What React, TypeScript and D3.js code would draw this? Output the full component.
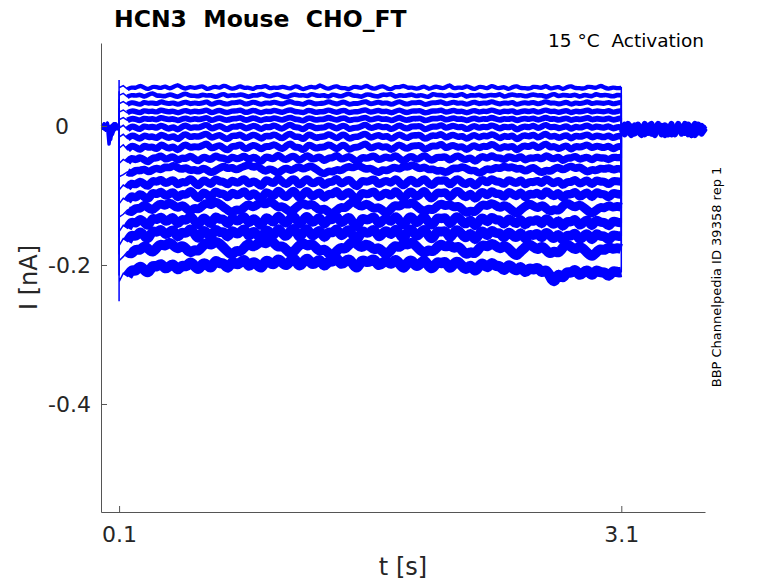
import { useEffect, useRef } from "react";
import * as d3 from "d3";

// current sweeps during the 0.1 - 3.1 s step, in pA (121 samples each)
const sweep01 = [55, 58, 53, 56, 54, 59, 55, 52, 57, 56, 54, 58, 53, 56, 60, 55, 53, 57, 54, 56, 58, 52, 55, 57, 54, 59, 56, 53, 55, 58, 54, 56, 52, 57, 55, 59, 53, 56, 54, 57, 55, 53, 58, 56, 52, 55, 57, 54, 60, 55, 53, 56, 58, 54, 55, 52, 57, 56, 54, 59, 55, 53, 56, 58, 54, 52, 57, 55, 59, 54, 56, 53, 55, 58, 52, 56, 57, 54, 55, 60, 53, 56, 54, 58, 55, 52, 57, 56, 53, 59, 55, 54, 57, 52, 56, 58, 54, 55, 53, 57, 56, 54, 59, 53, 55, 57, 52, 56, 58, 54, 55, 53, 57, 56, 54, 59, 55, 53, 56, 54, 55];
const sweep02 = [44, 47, 42, 45, 43, 46, 41, 45, 48, 43, 44, 42, 46, 44, 41, 45, 47, 43, 44, 42, 46, 43, 45, 41, 44, 47, 42, 45, 43, 46, 44, 41, 45, 43, 47, 44, 42, 45, 46, 43, 41, 44, 46, 43, 45, 42, 47, 44, 43, 45, 41, 46, 44, 42, 45, 47, 43, 44, 41, 46, 45, 43, 42, 46, 44, 47, 41, 45, 43, 44, 46, 42, 45, 43, 41, 47, 44, 45, 42, 46, 43, 44, 47, 41, 45, 43, 46, 42, 44, 45, 43, 47, 41, 44, 46, 43, 45, 42, 44, 46, 43, 45, 41, 44, 47, 42, 45, 44, 43, 46, 41, 45, 44, 42, 47, 43, 45, 44, 42, 45, 44];
const sweep03 = [32, 35, 31, 34, 33, 30, 35, 32, 34, 31, 36, 33, 32, 34, 30, 33, 35, 31, 34, 32, 33, 36, 30, 33, 35, 32, 31, 34, 33, 36, 31, 32, 35, 33, 30, 34, 32, 35, 33, 31, 34, 36, 32, 33, 30, 35, 34, 31, 33, 32, 36, 33, 31, 34, 35, 30, 33, 32, 34, 36, 31, 33, 35, 32, 34, 30, 33, 36, 32, 31, 34, 33, 35, 30, 32, 34, 33, 36, 31, 33, 35, 32, 34, 30, 33, 35, 31, 34, 32, 36, 33, 31, 34, 32, 35, 30, 33, 34, 32, 35, 31, 33, 36, 32, 34, 31, 33, 35, 30, 34, 32, 33, 36, 31, 34, 33, 32, 35, 31, 33, 34];
const sweep04 = [20, 23, 19, 22, 21, 18, 23, 20, 22, 19, 24, 21, 20, 22, 18, 21, 23, 19, 22, 20, 21, 24, 18, 21, 23, 20, 19, 22, 21, 24, 19, 20, 23, 21, 18, 22, 20, 23, 21, 19, 22, 24, 20, 21, 18, 23, 22, 19, 21, 20, 24, 21, 19, 22, 23, 18, 21, 20, 22, 24, 19, 21, 23, 20, 22, 18, 21, 24, 20, 19, 22, 21, 23, 18, 20, 22, 21, 24, 19, 21, 23, 20, 22, 18, 21, 23, 19, 22, 20, 24, 21, 19, 22, 20, 23, 18, 21, 22, 20, 23, 19, 21, 24, 20, 22, 19, 21, 23, 18, 22, 20, 21, 24, 19, 22, 21, 20, 23, 19, 21, 22];
const sweep05 = [9, 12, 8, 11, 10, 7, 12, 9, 11, 8, 13, 10, 9, 11, 7, 10, 12, 8, 11, 9, 10, 13, 7, 10, 12, 9, 8, 11, 10, 13, 8, 9, 12, 10, 7, 11, 9, 12, 10, 8, 11, 13, 9, 10, 6, 12, 11, 8, 10, 9, 13, 10, 8, 11, 12, 7, 10, 9, 11, 13, 8, 10, 12, 9, 11, 7, 10, 13, 9, 8, 11, 10, 12, 7, 9, 11, 10, 13, 8, 10, 12, 9, 11, 7, 10, 12, 8, 11, 9, 13, 10, 8, 11, 9, 12, 7, 10, 11, 9, 12, 8, 10, 13, 9, 11, 8, 10, 12, 7, 11, 9, 10, 13, 8, 11, 10, 9, 12, 8, 10, 11];
const sweep06 = [-3, 1, -5, 0, -2, -6, 1, -3, 0, -4, 2, -2, -5, 0, -7, -1, 2, -4, -1, -3, 0, 3, -5, -2, 1, -3, -6, 0, -2, 2, -4, -3, 1, -1, -6, 0, -3, 2, -2, -5, 0, 3, -3, -1, -7, 1, 0, -4, -2, -3, 2, -1, -5, 0, 1, -6, -2, -3, 0, 3, -4, -2, 1, -3, 0, -6, -2, 2, -3, -4, 0, -1, 1, -6, -3, 0, -2, 3, -4, -1, 1, -3, 0, -6, -2, 1, -4, 0, -3, 2, -1, -5, 0, -3, 1, -7, -2, 0, -3, 2, -4, -1, 3, -3, 0, -4, -2, 1, -6, 0, -3, -1, 2, -4, 0, -2, -3, 1, -5, -1, -2];
const sweep07 = [-16, -12, -18, -13, -15, -20, -12, -17, -14, -19, -11, -15, -18, -13, -21, -14, -11, -17, -14, -16, -13, -10, -18, -15, -12, -17, -20, -13, -15, -11, -18, -16, -12, -14, -20, -13, -16, -11, -15, -19, -13, -10, -17, -14, -21, -12, -13, -18, -15, -16, -11, -14, -19, -13, -12, -20, -15, -16, -13, -10, -18, -15, -12, -17, -13, -20, -15, -11, -16, -18, -13, -14, -12, -20, -16, -13, -15, -10, -18, -14, -12, -17, -13, -20, -15, -12, -18, -13, -16, -11, -14, -19, -13, -17, -12, -21, -15, -13, -16, -11, -18, -14, -10, -17, -13, -18, -15, -12, -20, -13, -16, -14, -11, -18, -13, -15, -17, -12, -19, -14, -15];
const sweep08 = [-32, -27, -34, -28, -30, -36, -27, -32, -29, -35, -25, -30, -33, -28, -37, -29, -26, -32, -29, -31, -28, -24, -33, -30, -27, -32, -36, -28, -30, -25, -34, -31, -27, -29, -35, -28, -31, -25, -30, -34, -28, -24, -32, -29, -37, -27, -28, -33, -30, -31, -26, -29, -35, -28, -27, -36, -30, -31, -28, -24, -33, -30, -27, -32, -28, -36, -30, -26, -31, -33, -28, -29, -27, -35, -31, -28, -30, -24, -33, -29, -27, -32, -28, -36, -30, -27, -33, -28, -31, -25, -29, -34, -28, -32, -27, -37, -30, -28, -31, -25, -33, -29, -24, -32, -28, -34, -30, -27, -36, -28, -31, -29, -26, -33, -28, -30, -32, -27, -35, -29, -30];
const sweep09 = [-54, -48, -52, -45, -50, -44, -49, -53, -45, -47, -41, -49, -46, -43, -51, -45, -48, -42, -47, -52, -44, -46, -50, -41, -47, -45, -51, -43, -48, -46, -42, -50, -44, -47, -53, -43, -46, -48, -40, -47, -49, -44, -43, -51, -46, -41, -48, -47, -43, -52, -45, -47, -40, -49, -46, -43, -48, -53, -44, -47, -45, -42, -50, -46, -44, -48, -41, -47, -52, -45, -43, -49, -46, -41, -48, -50, -44, -46, -43, -51, -45, -42, -47, -49, -44, -53, -46, -43, -48, -41, -47, -45, -50, -43, -46, -48, -42, -51, -45, -47, -44, -49, -41, -46, -48, -43, -52, -45, -47, -42, -49, -46, -44, -51, -43, -47, -45, -50, -44, -46, -45];
const sweep10 = [-73, -70, -66, -69, -63, -65, -61, -67, -63, -60, -64, -58, -61, -56, -60, -63, -59, -65, -62, -66, -60, -63, -68, -64, -61, -57, -62, -59, -64, -60, -58, -55, -60, -57, -62, -66, -61, -64, -69, -63, -60, -65, -61, -58, -63, -59, -57, -62, -66, -70, -64, -67, -62, -65, -60, -58, -61, -56, -59, -63, -60, -64, -68, -62, -65, -61, -59, -63, -57, -60, -55, -59, -62, -58, -64, -61, -66, -63, -68, -64, -60, -62, -58, -61, -65, -63, -69, -65, -61, -64, -59, -62, -57, -61, -58, -63, -60, -66, -62, -59, -64, -68, -63, -66, -61, -59, -64, -60, -57, -62, -58, -63, -67, -62, -65, -60, -63, -59, -64, -61, -62];
const sweep11 = [-92, -85, -89, -81, -86, -78, -84, -88, -77, -82, -75, -84, -80, -76, -87, -79, -83, -74, -81, -88, -77, -80, -86, -74, -81, -79, -87, -76, -83, -80, -74, -86, -78, -82, -89, -76, -80, -84, -73, -81, -85, -78, -75, -87, -80, -74, -84, -81, -76, -88, -79, -82, -73, -85, -80, -76, -84, -89, -77, -81, -79, -75, -86, -80, -78, -84, -74, -81, -88, -79, -76, -85, -80, -74, -84, -86, -77, -80, -76, -87, -79, -75, -82, -85, -77, -89, -80, -76, -84, -74, -81, -79, -86, -76, -80, -84, -75, -87, -79, -82, -77, -85, -74, -80, -84, -76, -88, -79, -82, -75, -85, -80, -77, -87, -76, -81, -79, -86, -78, -80, -80];
const sweep12 = [-112, -104, -108, -99, -105, -96, -102, -107, -94, -100, -92, -102, -98, -93, -106, -96, -101, -91, -99, -107, -94, -98, -105, -91, -99, -96, -106, -93, -101, -98, -91, -105, -95, -100, -108, -93, -98, -103, -90, -99, -104, -95, -92, -106, -98, -91, -103, -99, -93, -107, -96, -100, -90, -104, -98, -93, -103, -108, -94, -99, -97, -92, -105, -98, -95, -103, -91, -99, -107, -96, -93, -104, -98, -91, -103, -105, -94, -98, -93, -106, -96, -92, -100, -104, -94, -108, -98, -93, -103, -91, -99, -96, -105, -93, -98, -103, -92, -106, -96, -100, -94, -104, -91, -98, -103, -93, -107, -96, -100, -92, -104, -98, -94, -106, -93, -99, -97, -105, -95, -98, -99];
const sweep13 = [-131, -127, -121, -125, -117, -120, -112, -118, -122, -115, -111, -116, -109, -114, -119, -113, -118, -124, -117, -121, -114, -110, -115, -108, -112, -117, -121, -126, -119, -123, -116, -112, -118, -113, -109, -114, -107, -112, -118, -115, -120, -125, -119, -114, -110, -116, -111, -117, -122, -118, -124, -128, -121, -116, -119, -112, -108, -113, -117, -111, -115, -120, -116, -122, -126, -119, -113, -117, -110, -114, -109, -115, -120, -124, -118, -122, -115, -111, -116, -112, -118, -114, -120, -126, -121, -125, -117, -112, -116, -110, -114, -119, -113, -117, -122, -127, -120, -116, -111, -115, -119, -113, -118, -124, -119, -123, -115, -110, -114, -118, -112, -117, -122, -127, -121, -116, -119, -113, -118, -115, -117];
const sweep14 = [-152, -143, -147, -136, -142, -132, -139, -146, -130, -137, -128, -139, -135, -129, -145, -132, -138, -127, -136, -146, -130, -135, -144, -127, -136, -132, -145, -129, -138, -135, -127, -144, -131, -137, -147, -129, -135, -141, -126, -136, -142, -131, -128, -145, -135, -127, -141, -136, -129, -146, -132, -137, -126, -142, -135, -129, -141, -148, -130, -136, -134, -128, -144, -135, -131, -141, -127, -136, -146, -132, -129, -142, -135, -127, -141, -144, -130, -135, -129, -145, -133, -129, -138, -143, -131, -148, -136, -130, -142, -128, -137, -133, -145, -131, -137, -143, -130, -147, -134, -139, -132, -145, -130, -138, -144, -132, -149, -135, -140, -131, -146, -138, -133, -148, -132, -140, -137, -147, -135, -139, -139];
const sweep15 = [-172, -162, -166, -155, -161, -150, -158, -165, -148, -155, -146, -158, -153, -147, -164, -150, -157, -145, -155, -165, -148, -153, -163, -145, -155, -150, -164, -147, -157, -153, -145, -163, -149, -156, -166, -147, -153, -160, -144, -155, -161, -149, -146, -164, -153, -145, -160, -155, -147, -165, -150, -156, -144, -161, -153, -147, -160, -167, -148, -155, -153, -146, -163, -154, -149, -160, -145, -155, -165, -150, -147, -161, -154, -146, -160, -164, -149, -154, -148, -165, -152, -148, -157, -163, -150, -168, -155, -149, -162, -147, -156, -152, -165, -150, -157, -163, -149, -167, -154, -159, -152, -165, -150, -158, -164, -152, -169, -155, -160, -151, -166, -158, -153, -168, -152, -160, -157, -167, -155, -159, -158];
const sweep16 = [-194, -188, -181, -185, -176, -180, -171, -177, -183, -175, -169, -174, -166, -172, -178, -171, -176, -184, -177, -181, -172, -167, -173, -165, -169, -175, -181, -187, -178, -182, -174, -168, -175, -170, -165, -171, -163, -168, -175, -172, -178, -185, -179, -172, -167, -174, -168, -175, -181, -176, -183, -188, -180, -174, -178, -170, -165, -171, -176, -169, -173, -179, -174, -181, -186, -178, -171, -176, -168, -172, -166, -173, -179, -184, -177, -182, -174, -169, -175, -170, -177, -172, -179, -186, -180, -185, -176, -170, -175, -168, -172, -178, -171, -176, -182, -188, -180, -175, -169, -174, -179, -172, -178, -185, -179, -184, -175, -169, -174, -179, -172, -177, -183, -189, -182, -176, -180, -173, -178, -175, -177];
const sweep17 = [-224, -212, -216, -206, -210, -200, -207, -213, -199, -204, -196, -207, -202, -197, -210, -199, -204, -194, -201, -209, -196, -199, -207, -191, -199, -196, -208, -193, -200, -197, -190, -205, -194, -199, -207, -192, -196, -201, -189, -197, -202, -193, -189, -204, -196, -188, -200, -197, -190, -205, -193, -197, -187, -201, -195, -190, -200, -206, -191, -196, -195, -190, -203, -196, -193, -201, -190, -198, -207, -195, -192, -204, -198, -191, -203, -206, -194, -199, -193, -208, -197, -194, -202, -208, -197, -212, -201, -196, -207, -194, -203, -200, -211, -198, -204, -210, -199, -214, -203, -208, -202, -213, -205, -216, -228, -209, -222, -208, -213, -204, -217, -210, -206, -218, -205, -212, -209, -219, -207, -211, -210];

const sweeps = [sweep01, sweep02, sweep03, sweep04, sweep05, sweep06, sweep07, sweep08, sweep09, sweep10, sweep11, sweep12, sweep13, sweep14, sweep15, sweep16, sweep17];

// capacitive peak at step onset, pA
const onsetPeaks = [66, 50, 38, 26, 14, 2, -12, -28, -48, -68, -90, -112, -135, -160, -185, -215, -252];

// holding current before (0 - 0.1 s) and after (3.1 - 3.6 s) the step, pA
const holdPreA = [-1, 3, -3, 2, -26, -8, -2, 3, -4, 1, -2];
const holdPreB = [-4, 1, -5, -1, -7, -19, -3, 0, 3, -4, -1];
const holdPreC = [2, -4, 1, 4, -6, -1, -12, -5, 1, -2, 2];
const holdPreD = [-5, 0, -6, -2, -3, -10, 1, -6, -3, 0, -4];
const holdPostA = [-4, 2, -9, -1, -11, 0, -6, 3, -10, -3, -8, 1, -12, -2, -7, 3, -11, -4, -1, -9, 2, -6, -13, -3, 0, -8];
const holdPostB = [-7, -12, -2, -10, 1, -8, -13, -4, 0, -11, -5, 3, -9, -13, -1, -7, -12, 0, -6, -10, -3, -13, -5, 2, -11, -4];
const holdPostC = [0, -6, 3, -3, -9, 2, -5, -12, -1, 3, -7, -2, -10, 1, -4, -12, -6, 3, -8, 0, -12, -3, 3, -9, -5, 1];
const holdPostD = [-10, -3, -7, -13, -5, 1, -11, -6, -2, -9, -13, -4, 0, -8, -12, -1, -6, -3, -11, 3, -7, -13, -2, -9, -4, -6];
const holdPre = [holdPreA, holdPreB, holdPreC, holdPreD];
const holdPost = [holdPostA, holdPostB, holdPostC, holdPostD];

const xTickValues = [0.1, 3.1];
const xTickLabels = ["0.1", "3.1"];
const yTickValues = [0, -0.2, -0.4];
const yTickLabels = ["0", "-0.2", "-0.4"];

const W = 778;
const H = 583;
const left = 101, right = 705, top = 43, bottom = 512;
const font = "DejaVu Sans, sans-serif";
const axisColor = "#262626";
const blue = "#0000ff";

const x = d3.scaleLinear().domain([-0.008, 3.6]).range([left, right]);
const y = d3.scaleLinear().domain([-0.5554, 0.1194]).range([bottom, top]);

type Pt = [number, number];

const prePoints = (arr: number[]): Pt[] => arr.map((v, i) => [0.1 * i / (arr.length - 1), v]);
const postPoints = (arr: number[]): Pt[] => arr.map((v, i) => [3.1 + 0.5 * i / (arr.length - 1), v]);
const pulsePoints = (arr: number[]): Pt[] => arr.map((v, i) => [0.1 + 3.0 * i / (arr.length - 1), v]);

function sweepPoints(k: number): Pt[] {
    return [
        ...prePoints(holdPre[k % 4]),
        [0.1, onsetPeaks[k]],
        ...pulsePoints(sweeps[k]),
        ...postPoints(holdPost[k % 4]),
    ];
}

export default function App() {
    const axRef = useRef<SVGGElement>(null);

    useEffect(() => {
        const g = d3.select(axRef.current);
        g.selectAll("*").remove();

        const xa = g.append("g")
            .attr("transform", `translate(0,${bottom})`)
            .call(d3.axisBottom(x)
                .tickValues(xTickValues)
                .tickFormat((_d, i) => xTickLabels[i])
                .tickSizeInner(-6)
                .tickSizeOuter(0)
                .tickPadding(14))
        const ya = g.append("g")
            .attr("transform", `translate(${left},0)`)
            .call(d3.axisLeft(y)
                .tickValues(yTickValues)
                .tickFormat((_d, i) => yTickLabels[i])
                .tickSizeInner(-6)
                .tickSizeOuter(0)
                .tickPadding(10))
        for (const a of [xa, ya]) {
            a.attr("font-size", 22).attr("font-family", font)
            a.select(".domain").attr("stroke", "#555")
            a.selectAll(".tick line").attr("stroke", "#555")
            a.selectAll(".tick text").attr("fill", axisColor)
        }
        // the zero label sits further left in the original
        ya.selectAll<SVGTextElement, number>(".tick text")
            .filter((d) => d === 0)
            .attr("dx", -22)
    }, []);

    const line = d3.line<Pt>()
        .x((d) => x(d[0]))
        .y((d) => y(d[1] / 1000));
    const band = d3.line<Pt>()
        .x((d) => x(d[0]))
        .y((d) => y(d[1] / 1000))
        .curve(d3.curveBasis);

    return (
        <svg width={W} height={H} viewBox={`0 0 ${W} ${H}`}
            style={{ position: "absolute", left: 0, top: 0, background: "#fff", display: "block" }}>
            {/* noise band of the holding current */}
            <g fill="none" stroke={blue} strokeLinejoin="round">
                {holdPre.map((h, i) => <path key={"pre" + i} d={line(prePoints(h)) ?? ""} strokeWidth={3.5} />)}
                {holdPost.map((h, i) => <path key={"post" + i} d={line(postPoints(h)) ?? ""} strokeWidth={6} />)}
            </g>
            {/* noise band of each sweep during the step */}
            <g fill="none" stroke={blue}>
                {sweeps.map((s, k) => (
                    <path key={k} d={band(pulsePoints(s).slice(2)) ?? ""}
                        strokeWidth={4.3 + k * 0.38} />
                ))}
            </g>
            {/* raw sweeps */}
            <g fill="none" stroke={blue} strokeWidth={1.5}>
                {sweeps.map((_s, k) => (
                    <path key={k} d={line(sweepPoints(k)) ?? ""} />
                ))}
            </g>
            <g ref={axRef} />
            <text x={114} y={27} fontFamily={font} fontWeight="bold" fontSize={23.5}
                style={{ whiteSpace: "pre" }} fill="#000">HCN3  Mouse  CHO_FT</text>
            <text x={704} y={47} fontFamily={font} fontSize={18.5} textAnchor="end"
                style={{ whiteSpace: "pre" }} fill="#000">15 °C  Activation</text>
            <text transform="translate(721,277) rotate(-90)" fontFamily={font} fontSize={13}
                textAnchor="middle" fill="#000">BBP Channelpedia ID 39358 rep 1</text>
            <text transform="translate(37,277.5) rotate(-90)" fontFamily={font} fontSize={24}
                textAnchor="middle" fill={axisColor}>I [nA]</text>
            <text x={403} y={575} fontFamily={font} fontSize={24} textAnchor="middle"
                fill={axisColor}>t [s]</text>
        </svg>
    );
}
